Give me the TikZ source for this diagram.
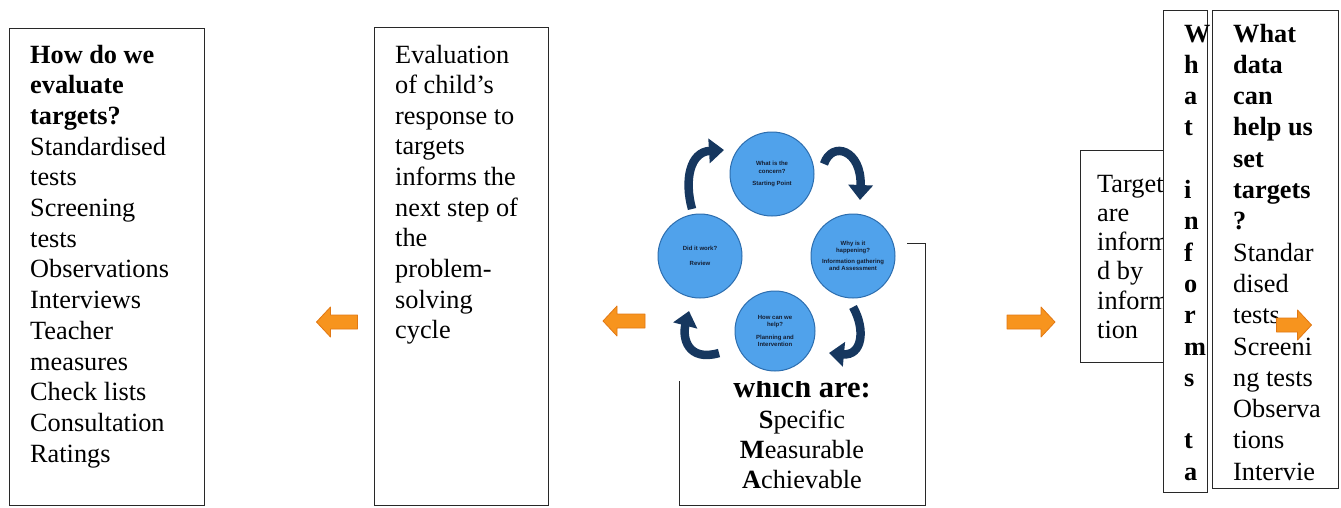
\documentclass[tikz,border=0pt]{standalone}
\usepackage{fontspec}
\setmainfont{Liberation Serif}
\newfontfamily\circfont{Liberation Sans}
\usetikzlibrary{arrows.meta}
\definecolor{boxline}{RGB}{40,40,40}
\definecolor{circfill}{RGB}{80,162,235}
\definecolor{circline}{RGB}{45,110,175}
\definecolor{navy}{RGB}{22,55,95}
\definecolor{circtext}{RGB}{20,30,50}
\definecolor{orangef}{RGB}{247,148,30}
\definecolor{oranged}{RGB}{225,120,20}
\newcommand{\blockarrow}[4]{%
  \begin{scope}[shift={(#1,#2)}, xscale=#3]
    \filldraw[orangearrow] (-#4,-7) -- (#4-14,-7) -- (#4-14,-15) -- (#4,0) -- (#4-14,15) -- (#4-14,7) -- (-#4,7) -- cycle;
  \end{scope}}
\tikzset{
  box/.style={draw=boxline, line width=1.3pt, fill=white, anchor=north west, inner sep=0pt},
  txt/.style={anchor=base west, inner sep=0pt, font=\fontsize{26.3}{31}\selectfont},
  ctxt/.style={anchor=base, inner sep=0pt, font=\fontsize{26.3}{31}\selectfont},
  circ/.style={circle, draw=circline, line width=1pt, fill=circfill, minimum size=84pt, inner sep=0pt,
    align=center, font=\circfont\bfseries\fontsize{6}{7.5}\selectfont, text=circtext},
  cyc/.style={draw=navy, line width=8.5pt, -{Triangle[width=24pt,length=15pt]}},
  orangearrow/.style={fill=orangef, draw=oranged, line width=0.8pt, line join=round}
}
\begin{document}
\begin{tikzpicture}[x=1pt,y=-1pt]
\useasboundingbox (0,0) rectangle (1341,507);

% left box
\node[box, minimum width=195pt, minimum height=477pt] (lbox) at (9,28) {};
\foreach \t [count=\i from 0] in {\textbf{How do we},\textbf{evaluate},\textbf{targets?},Standardised,tests,Screening,tests,Observations,Interviews,Teacher,measures,Check lists,Consultation,Ratings}
  \node[txt] (l\i) at (30,63+\i*30.7) {\t};

% middle text box
\node[box, minimum width=174pt, minimum height=478pt] (mbox) at (374,27) {};
\foreach \t [count=\i from 0] in {Evaluation,of child’s,response to,targets,informs the,next step of,the,problem-,solving,cycle}
  \node[txt] (m\i) at (395,63+\i*30.65) {\t};

% SMART box (partly behind the cycle picture)
\node[box, minimum width=246pt, minimum height=262pt] (sbox) at (679,243) {};
\node[ctxt, font=\fontsize{30.5}{34}\selectfont\bfseries] (which) at (802,397) {which are:};
\node[ctxt] (s1) at (802,428) {\textbf{S}pecific};
\node[ctxt] (s2) at (802,458) {\textbf{M}easurable};
\node[ctxt] (s3) at (802,488) {\textbf{A}chievable};

% cycle picture background
\fill[white] (650,100) rectangle (907,381);

% circles
\node[circ] (c1) at (772,174) {What is the\\concern?\\[5pt]Starting Point};
\node[circ] (c2) at (853,256) {Why is it\\happening?\\[3pt]Information gathering\\and Assessment};
\node[circ, minimum size=80pt] (c3) at (775,331) {How can we\\help?\\[5pt]Planning and\\Intervention};
\node[circ] (c4) at (700,256) {Did it work?\\[8pt]Review};

% cycle arrows
\coordinate (a1s) at (692,209); \coordinate (a1e) at (724,150);
\coordinate (a2s) at (824,164); \coordinate (a2e) at (860,200);
\coordinate (a3s) at (853,307); \coordinate (a3e) at (829,353);
\coordinate (a4s) at (719,353); \coordinate (a4e) at (689,311);
\draw[cyc] (a1s) .. controls (684,180) and (690,152) .. (a1e);
\draw[cyc] (a2s) .. controls (832,140) and (862,150) .. (a2e);
\draw[cyc] (a3s) .. controls (866,330) and (862,356) .. (a3e);
\draw[cyc] (a4s) .. controls (688,362) and (682,338) .. (a4e);

% Targets box
\node[box, minimum width=95pt, minimum height=212pt] (tbox) at (1080,150) {};
\foreach \t [count=\i from 0] in {Targets,are,informe,d by,informa,tion}
  \node[txt] (t\i) at (1097,192+\i*29.3) {\t};

% vertical box
\node[box, minimum width=44pt, minimum height=482pt] (vbox) at (1163,10) {};
\foreach \t [count=\i from 0] in {W,h,a,t,{},i,n,f,o,r,m,s,{},t,a}
  \node[txt, font=\fontsize{26.3}{31}\selectfont\bfseries] (v\i) at (1184,42+\i*31.3) {\t};

% right box
\node[box, minimum width=126pt, minimum height=478pt] (rbox) at (1212,10) {};
\foreach \t [count=\i from 0] in {\textbf{What},\textbf{data},\textbf{can},\textbf{help us},\textbf{set},\textbf{targets},\textbf{?},Standar,dised,tests,Screeni,ng tests,Observa,tions,Intervie}
  \node[txt] (r\i) at (1233,42+\i*31.3) {\t};

% orange arrows
\blockarrow{337}{322}{-1}{20.5}
\blockarrow{624}{321}{-1}{21}
\blockarrow{1031}{322}{1}{24}
\blockarrow{1294}{325}{1}{17.5}
\end{tikzpicture}
\end{document}
